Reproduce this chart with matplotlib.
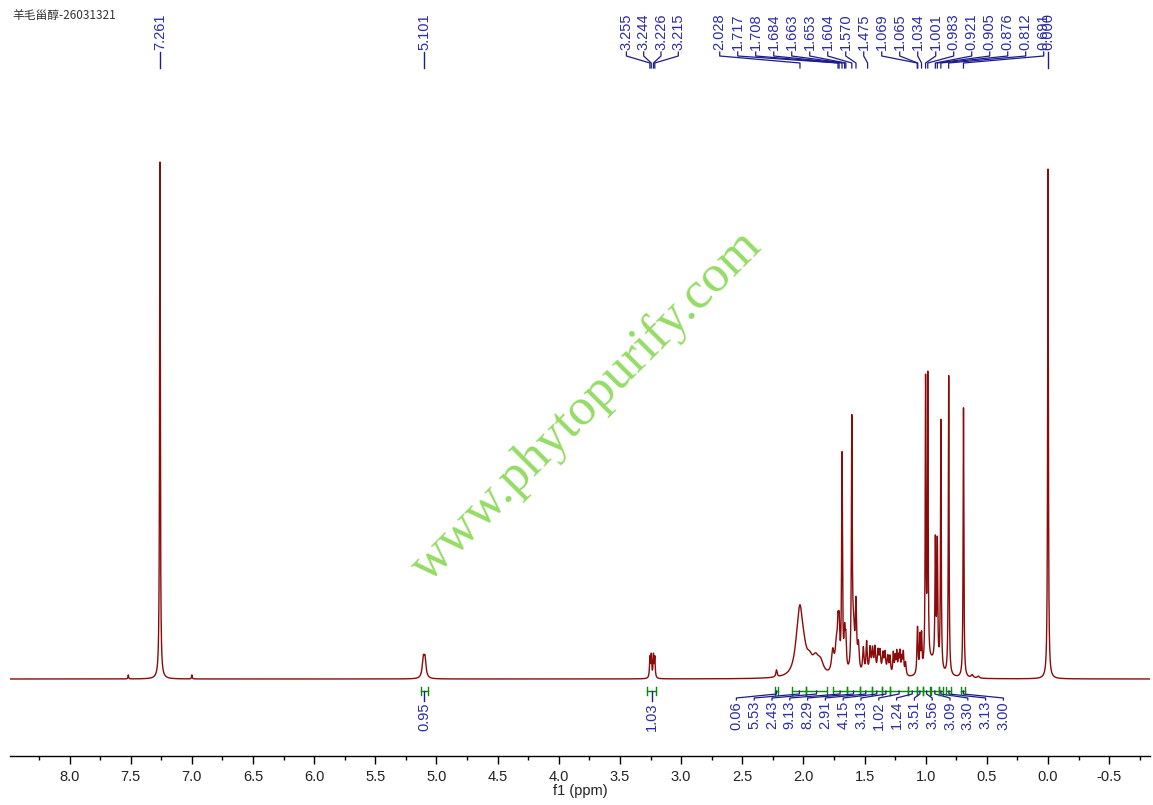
import numpy as np
import matplotlib
matplotlib.use("Agg")
import matplotlib.pyplot as plt
from matplotlib.ticker import MultipleLocator
from matplotlib.transforms import blended_transform_factory

plt.rcParams['axes.unicode_minus'] = False
plt.rcParams['font.family'] = ['Liberation Sans', 'DejaVu Sans']

# peak list (ppm, height above baseline, half width)
peak_ppm = [7.520, 7.261, 7.000, 5.108, 5.094,
            3.255, 3.244, 3.226, 3.215, 2.220,
            2.050, 2.028, 2.000, 1.950, 1.900, 1.860,
            1.760, 1.730, 1.717, 1.708, 1.684, 1.663, 1.653,
            1.604, 1.590, 1.570, 1.550,
            1.510, 1.483, 1.455, 1.435, 1.415, 1.390, 1.374, 1.350,
            1.333, 1.310, 1.292, 1.265, 1.250, 1.237, 1.222, 1.210,
            1.195, 1.183, 1.165,
            1.069, 1.065, 1.047, 1.034, 1.001, 0.983, 0.950,
            0.921, 0.905, 0.876, 0.812, 0.691, 0.620, 0.570, 0.000]
peak_height = [4, 517, 4, 18, 18,
               20, 22, 22, 20, 7,
               18, 50, 18, 12, 14, 12,
               22, 27, 35, 40, 215, 35, 30,
               245, 40, 65, 27,
               26, 32, 26, 24, 26, 22, 22, 20,
               21, 18, 18, 22, 17, 22, 17, 22,
               16, 22, 13,
               30, 28, 35, 35, 285, 285, 15,
               122, 122, 250, 300, 270, 3, 2, 510]
peak_width = [0.003, 0.0035, 0.003, 0.01, 0.01,
              0.004, 0.004, 0.004, 0.004, 0.006,
              0.03, 0.025, 0.03, 0.03, 0.03, 0.03,
              0.012, 0.012, 0.006, 0.006, 0.004, 0.006, 0.006,
              0.004, 0.01, 0.006, 0.008,
              0.007, 0.006, 0.007, 0.007, 0.007, 0.007, 0.007, 0.007,
              0.007, 0.007, 0.006, 0.005, 0.005, 0.005, 0.005, 0.005,
              0.005, 0.005, 0.006,
              0.004, 0.004, 0.004, 0.004, 0.0035, 0.0035, 0.05,
              0.004, 0.004, 0.0035, 0.0035, 0.0035, 0.01, 0.01, 0.0035]

# peak picking labels
single_labels = [7.261, 5.101, 0.000]
group_a = [3.255, 3.244, 3.226, 3.215]
group_b = [2.028, 1.717, 1.708, 1.684, 1.663, 1.653, 1.604, 1.570, 1.475,
           1.069, 1.065, 1.034, 1.001, 0.983, 0.921, 0.905, 0.876, 0.812, 0.691]

# integrals: (start, end) ppm and values
single_int_regions = [(5.13, 5.07), (3.275, 3.205)]
single_int_values = ["0.95", "1.03"]
int_regions = [(2.235, 2.205), (2.09, 1.975), (1.975, 1.81), (1.76, 1.64),
               (1.64, 1.54), (1.54, 1.44), (1.44, 1.36), (1.36, 1.29),
               (1.29, 1.145), (1.145, 1.075), (1.075, 1.02), (1.02, 0.965),
               (0.955, 0.895), (0.89, 0.86), (0.83, 0.79), (0.71, 0.675)]
int_values = ["0.06", "5.53", "2.43", "9.13", "8.29", "2.91", "4.15", "3.13",
              "1.02", "1.24", "3.51", "3.56", "3.09", "3.30", "3.13", "3.00"]

W, H = 1153, 805
xmin, xmax = 8.487, -0.834
ppm_px = 1140 / (xmin - xmax)

x = np.linspace(xmin, xmax, 60000)
y = np.zeros_like(x)
for p, h, w in zip(peak_ppm, peak_height, peak_width):
    y += h * w**2 / ((x - p)**2 + w**2)

fig = plt.figure(figsize=(W / 100, H / 100), dpi=100)
ax = fig.add_axes([10 / W, 49 / H, 1140 / W, 756 / H])
ax.plot(x, y, color='#8b0a0a', lw=1.0)
ax.set_xlim(xmin, xmax)
ax.set_ylim(-77, 679)
for s in ['top', 'left', 'right']:
    ax.spines[s].set_visible(False)
ax.spines['bottom'].set_linewidth(1.0)
ax.set_yticks([])
ax.xaxis.set_major_locator(MultipleLocator(0.5))
ax.xaxis.set_minor_locator(MultipleLocator(0.25))
ax.xaxis.set_major_formatter(plt.FormatStrFormatter('%.1f'))
ax.tick_params(axis='x', which='major', length=6, width=1, labelsize=10.5,
               pad=4, labelcolor='#222222')
ax.tick_params(axis='x', which='minor', length=3, width=1)
ax.set_xlabel('f1 (ppm)', fontsize=10.5, labelpad=0, color='#222222')

tr = blended_transform_factory(ax.transData, fig.transFigure)


def fy(py):
    return 1 - py / H


navy = '#1c1c8c'
lab_col = '#2b2ba6'
green = '#0a8a0a'

# peak labels on top
for p in single_labels:
    ax.plot([p, p], [fy(52), fy(68)], color=navy, lw=1, transform=tr, clip_on=False)
    ax.text(p, fy(50), f'{p:.3f}', rotation=90, ha='center', va='bottom',
            fontsize=10.5, color=lab_col, transform=tr)

for grp, sp in [(group_a, 17.3), (group_b, 18.0)]:
    step = sp / ppm_px
    mid = (grp[0] + grp[-1]) / 2
    n = len(grp)
    for i, p in enumerate(grp):
        lx = mid + (n - 1) / 2 * step - i * step
        ax.plot([lx, lx, p, p], [fy(52), fy(56), fy(63), fy(68)], color=navy,
                lw=0.9, transform=tr, clip_on=False)
        ax.text(lx, fy(50), f'{p:.3f}', rotation=90, ha='center', va='bottom',
                fontsize=10.5, color=lab_col, transform=tr)


def draw_bracket(a, b):
    ax.plot([a, b], [fy(691), fy(691)], color=green, lw=1, transform=tr, clip_on=False)
    for e in (a, b):
        ax.plot([e, e], [fy(687), fy(695)], color=green, lw=1, transform=tr, clip_on=False)


# integrals below
for (a, b), v in zip(single_int_regions, single_int_values):
    draw_bracket(a, b)
    c = (a + b) / 2
    ax.plot([c, c], [fy(691), fy(701)], color=navy, lw=1, transform=tr, clip_on=False)
    ax.text(c, fy(702), v, rotation=90, ha='center', va='top',
            fontsize=10.5, color=lab_col, transform=tr)

centers = [(a + b) / 2 for a, b in int_regions]
step = 17.8 / ppm_px
mid = (centers[0] + centers[-1]) / 2
n = len(centers)
for i, ((a, b), v) in enumerate(zip(int_regions, int_values)):
    draw_bracket(a, b)
    c = centers[i]
    lx = mid + (n - 1) / 2 * step - i * step
    ax.plot([c, c, lx, lx], [fy(691), fy(694), fy(698), fy(700)], color=navy,
            lw=0.9, transform=tr, clip_on=False)
    ax.text(lx, fy(701), v, rotation=90, ha='center', va='top',
            fontsize=10.5, color=lab_col, transform=tr)

# title and watermark
fig.text(12 / W, fy(15), '羊毛甾醇-26031321', va='center', ha='left', fontsize=8.5,
         color='#333333', family=['Noto Sans CJK SC', 'DejaVu Sans'])
fig.text(587 / W, fy(406), 'www.phytopurify.com', rotation=45, ha='center',
         va='center', rotation_mode='anchor', fontsize=38, color='#95dc66',
         family='Liberation Serif')

fig.savefig('out.png', dpi=100)
